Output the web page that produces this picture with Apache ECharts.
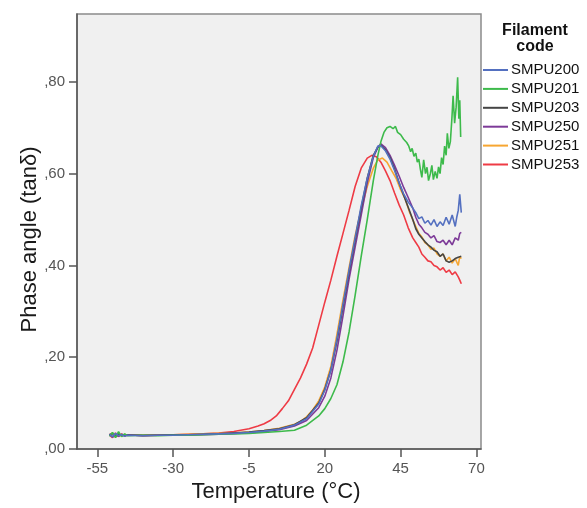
<!DOCTYPE html>
<html>
<head>
<meta charset="utf-8">
<script src="https://cdn.jsdelivr.net/npm/echarts@6/dist/echarts.min.js"></script>
<style>
  html, body { margin: 0; padding: 0; background: #fff; }
  #chart { width: 587px; height: 508px; }
</style>
</head>
<body>
<div id="chart"></div>
<script>
// tick labels
const xTicks = [-55, -30, -5, 20, 45, 70];
const seriesNames = ['SMPU200', 'SMPU201', 'SMPU203', 'SMPU250', 'SMPU251', 'SMPU253'];
const seriesColors = ['#5470c0', '#3dba4b', '#454545', '#7d3a98', '#f7a631', '#ee3b45'];

// baseline part shared by the readings (temperature, degC)
const tempBase = [-51, -50, -49, -48, -47, -46, -45, -40, -35, -30, -25, -20, -15, -10, -5];

// SMPU200
const temp200 = [0, 5, 10, 14, 18, 20, 22, 24, 26, 28, 30, 32, 34, 36, 37.5, 38.5, 40, 41.5, 43, 44.5, 46, 47.5, 49, 50, 51, 52, 53, 54, 55, 56, 57, 58, 59, 60, 61, 62, 63, 63.5, 64, 64.5, 65];
const tan200base = [0.032, 0.027, 0.034, 0.029, 0.031, 0.028, 0.030, 0.029, 0.030, 0.030, 0.031, 0.032, 0.033, 0.034, 0.036];
const tan200 = [0.039, 0.043, 0.052, 0.066, 0.098, 0.128, 0.172, 0.24, 0.315, 0.39, 0.46, 0.53, 0.59, 0.638, 0.66, 0.661, 0.65, 0.632, 0.607, 0.58, 0.556, 0.538, 0.525, 0.515, 0.502, 0.506, 0.492, 0.498, 0.488, 0.5, 0.485, 0.495, 0.487, 0.505, 0.49, 0.51, 0.485, 0.505, 0.52, 0.555, 0.515];

// SMPU201
const temp201 = [0, 5, 10, 14, 18, 20, 22, 24, 26, 28, 30, 32, 34, 36, 37.5, 38.5, 39.5, 40.5, 41.5, 42.5, 43.3, 44, 45, 46, 47, 47.7, 48.3, 48.8, 49.4, 50, 50.5, 51, 51.5, 52, 52.6, 53.2, 53.7, 54.2, 54.8, 55.3, 55.8, 56.4, 57, 57.5, 58, 58.5, 59, 59.5, 60, 60.4, 60.9, 61.4, 61.9, 62.3, 62.8, 63.3, 63.8, 64.2, 64.5, 64.8];
const tan201base = [0.028, 0.036, 0.025, 0.038, 0.027, 0.033, 0.029, 0.030, 0.029, 0.030, 0.030, 0.031, 0.032, 0.033, 0.034];
const tan201 = [0.036, 0.038, 0.041, 0.052, 0.072, 0.088, 0.11, 0.14, 0.19, 0.255, 0.335, 0.42, 0.5, 0.585, 0.64, 0.67, 0.69, 0.7, 0.703, 0.698, 0.703, 0.69, 0.685, 0.675, 0.668, 0.66, 0.648, 0.655, 0.638, 0.645, 0.625, 0.632, 0.61, 0.592, 0.63, 0.6, 0.614, 0.585, 0.6, 0.618, 0.587, 0.605, 0.59, 0.615, 0.6, 0.635, 0.62, 0.66, 0.64, 0.688, 0.655, 0.67, 0.72, 0.77, 0.71, 0.745, 0.81, 0.72, 0.76, 0.68];

// SMPU203
const temp203 = [0, 5, 10, 14, 18, 20, 22, 24, 26, 28, 30, 32, 34, 36, 37.5, 38.5, 40, 41.5, 43, 44.5, 46, 47.5, 49, 50, 51, 52, 53, 54, 55, 56, 57, 58, 59, 60, 61, 62, 63, 64, 65];
const tan203base = [0.030, 0.034, 0.027, 0.033, 0.029, 0.031, 0.030, 0.030, 0.030, 0.031, 0.031, 0.032, 0.033, 0.035, 0.037];
const tan203 = [0.04, 0.044, 0.053, 0.068, 0.1, 0.13, 0.172, 0.235, 0.31, 0.385, 0.455, 0.525, 0.59, 0.64, 0.658, 0.662, 0.652, 0.635, 0.61, 0.58, 0.553, 0.527, 0.5, 0.48, 0.468, 0.46, 0.452, 0.445, 0.44, 0.433, 0.43, 0.42, 0.425, 0.41, 0.407, 0.41, 0.415, 0.418, 0.42];

// SMPU250
const temp250 = [0, 5, 10, 14, 18, 20, 22, 24, 26, 28, 30, 32, 34, 36, 37.5, 38.5, 40, 41.5, 43, 44.5, 46, 47.5, 49, 50, 51, 52, 53, 54, 55, 56, 57, 58, 59, 60, 61, 62, 63, 64, 64.5, 65];
const tan250base = [0.033, 0.026, 0.031, 0.028, 0.032, 0.029, 0.031, 0.029, 0.030, 0.030, 0.031, 0.031, 0.032, 0.034, 0.035];
const tan250 = [0.038, 0.042, 0.05, 0.062, 0.09, 0.115, 0.155, 0.215, 0.29, 0.37, 0.44, 0.51, 0.58, 0.635, 0.658, 0.665, 0.657, 0.64, 0.618, 0.595, 0.57, 0.548, 0.525, 0.505, 0.49, 0.482, 0.472, 0.468, 0.46, 0.465, 0.452, 0.45, 0.455, 0.445, 0.455, 0.445, 0.46, 0.455, 0.47, 0.472];

// SMPU251
const temp251 = [0, 5, 10, 12, 14, 16, 18, 20, 22, 24, 26, 28, 30, 32, 34, 36, 37.5, 39, 40.5, 42, 43.5, 45, 46.5, 48, 49, 50, 51, 52, 53, 54, 55, 56, 57, 58, 59, 60, 61, 62, 63, 64, 64.5, 65];
const tan251base = [0.031, 0.035, 0.026, 0.034, 0.028, 0.032, 0.030, 0.030, 0.031, 0.031, 0.032, 0.033, 0.034, 0.035, 0.037];
const tan251 = [0.04, 0.045, 0.054, 0.06, 0.07, 0.085, 0.105, 0.135, 0.18, 0.25, 0.325, 0.395, 0.465, 0.522, 0.572, 0.612, 0.63, 0.634, 0.625, 0.607, 0.59, 0.565, 0.545, 0.515, 0.5, 0.485, 0.47, 0.462, 0.45, 0.445, 0.435, 0.438, 0.425, 0.42, 0.425, 0.41, 0.418, 0.405, 0.415, 0.4, 0.42, 0.415];

// SMPU253
const temp253 = [-2, 0, 2, 4, 6, 8, 10, 12, 14, 16, 18, 20, 22, 24, 26, 28, 30, 32, 34, 35.5, 37, 38.5, 40, 41.5, 43, 44.5, 46, 47.5, 49, 50, 51, 52, 53, 54, 55, 56, 57, 58, 59, 60, 61, 62, 63, 64, 64.5, 65];
const tan253base = [0.030, 0.025, 0.035, 0.027, 0.033, 0.028, 0.031, 0.029, 0.030, 0.031, 0.032, 0.033, 0.035, 0.038, 0.044];
const tan253 = [0.05, 0.055, 0.062, 0.072, 0.088, 0.105, 0.13, 0.155, 0.185, 0.22, 0.27, 0.32, 0.368, 0.42, 0.47, 0.52, 0.572, 0.612, 0.634, 0.64, 0.637, 0.625, 0.606, 0.585, 0.558, 0.532, 0.51, 0.482, 0.46, 0.45, 0.44, 0.425, 0.418, 0.41, 0.408, 0.4, 0.397, 0.39, 0.395, 0.385, 0.39, 0.38, 0.386, 0.375, 0.368, 0.36];

const temps = [temp200, temp201, temp203, temp250, temp251, temp253];
const baseVals = [tan200base, tan201base, tan203base, tan250base, tan251base, tan253base];
const vals = [tan200, tan201, tan203, tan250, tan251, tan253];

const font = 'Liberation Sans, Arial, sans-serif';

const pairs = (t, v) => t.map((x, i) => [x, v[i]]);

const chart = echarts.init(document.getElementById('chart'));

const series = seriesNames.map((name, k) => ({
    name: name,
    type: 'line',
    showSymbol: false,
    symbol: 'none',
    color: seriesColors[k],
    lineStyle: { width: 1.6 },
    data: pairs(tempBase, baseVals[k]).concat(pairs(temps[k], vals[k])),
    z: 10 - k
}));

chart.setOption({
    animation: false,
    textStyle: { fontFamily: font },
    title: {
        text: 'Filament\ncode',
        left: 530,
        top: 18,
        textAlign: 'center',
        textStyle: { fontSize: 16, fontWeight: 'bold', color: '#111', lineHeight: 16, fontFamily: font }
    },
    legend: {
        orient: 'vertical',
        left: 483,
        top: 62,
        padding: 0,
        icon: 'rect',
        itemWidth: 25,
        itemHeight: 2,
        itemGap: 2.9,
        textStyle: { fontSize: 15, color: '#111', lineHeight: 16, padding: [0, 0, 0, -2], fontFamily: font },
        data: seriesNames
    },
    grid: {
        left: 77,
        top: 14,
        width: 404,
        height: 435,
        show: true,
        backgroundColor: '#f0f0f0',
        borderColor: '#8a8a8a',
        borderWidth: 1.5
    },
    xAxis: {
        type: 'value',
        min: -61.7,
        max: 71.5,
        name: 'Temperature (°C)',
        nameLocation: 'middle',
        nameGap: 32,
        nameMoveOverlap: false,
        nameTextStyle: { fontSize: 22, color: '#1a1a1a', fontFamily: font, padding: [0, 6, 0, 0] },
        axisLine: { show: true, onZero: false, lineStyle: { color: '#555', width: 1.5 } },
        axisTick: { show: true, length: 8, lineStyle: { color: '#555', width: 1.5 }, customValues: xTicks },
        axisLabel: { fontSize: 15, color: '#555', margin: 12, customValues: xTicks },
        splitLine: { show: false }
    },
    yAxis: {
        type: 'value',
        min: 0,
        max: 0.948,
        interval: 0.2,
        name: 'Phase angle (tanδ)',
        nameLocation: 'middle',
        nameGap: 36,
        nameMoveOverlap: false,
        nameTextStyle: { fontSize: 22, color: '#1a1a1a', fontFamily: font, padding: [0, 16, 0, 0] },
        axisLine: { show: true, onZero: false, lineStyle: { color: '#555', width: 1.5 } },
        axisTick: { show: true, length: 8, lineStyle: { color: '#555', width: 1.5 } },
        axisLabel: {
            fontSize: 15,
            color: '#555',
            margin: 12,
            showMaxLabel: false,
            formatter: v => (v > 0.9 ? '' : v.toFixed(2).replace('0.', ','))
        },
        splitLine: { show: false }
    },
    series: series
});
</script>
</body>
</html>
